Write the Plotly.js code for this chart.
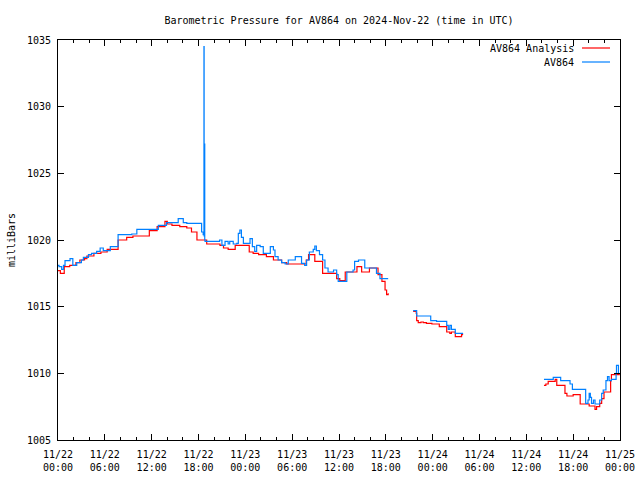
<!DOCTYPE html>
<html>
<head>
<meta charset="utf-8">
<script src="https://cdn.plot.ly/plotly-3.0.1.min.js"></script>
<style>html,body{margin:0;padding:0;background:#fff;}#chart{width:640px;height:480px;}</style>
</head>
<body>
<div id="chart"></div>
<script>
// Hours after 2024-11-22 00:00 UTC; null marks data gaps
const analysisHours = [0,0.3,0.8,1.5,2.3,2.8,3.4,3.7,4.6,5.5,6.3,7.7,8.8,9.6,11.7,12.7,13.7,14.0,14.6,15.6,16.5,17.1,17.8,18.8,19.05,20.75,21.2,21.8,22.7,24.5,25.0,25.7,26.7,27.6,28.65,29.3,31.8,32.1,32.9,33.9,35.7,36.1,36.8,38.3,38.9,39.9,41.0,41.5,41.9,42.1,42.3,
  43,
  45.5,45.9,45.95,46.15,46.5,46.8,47.2,47.9,48.85,49.8,50.2,50.4,50.9,51.7,51.9,
  55,
  62.26,62.5,62.8,63.7,63.9,64.95,65.2,66.0,66.9,67.8,68.05,68.8,69.0,69.4,69.65,69.95,70.8,70.9,71.9];
const analysisValues = [1017.7,1017.5,1018.0,1018.1,1018.3,1018.5,1018.6,1018.8,1019.0,1019.1,1019.3,1020.0,1020.2,1020.3,1020.7,1021.0,1021.4,1021.2,1021.1,1021.0,1020.9,1020.6,1020.0,1020.0,1019.7,1019.6,1019.4,1019.3,1019.6,1019.1,1019.0,1018.9,1018.75,1018.5,1018.3,1018.2,1018.5,1018.9,1018.4,1017.5,1017.1,1016.95,1017.6,1018.0,1017.6,1017.9,1017.4,1016.9,1016.25,1015.9,1016.0,
  null,
  1014.65,1014.5,1013.95,1013.8,1013.85,1013.8,1013.75,1013.7,1013.5,1013.1,1013.0,1013.1,1012.75,1012.9,1012.9,
  null,
  1009.1,1009.2,1009.4,1009.55,1009.1,1008.5,1008.3,1008.4,1007.7,1007.7,1007.55,1007.3,1007.5,1007.75,1008.1,1008.6,1009.45,1009.9,1010.0];

const stationHours = [0,0.13,0.47,0.7,0.9,1.54,1.9,2.4,3.0,3.25,3.9,4.3,4.95,5.4,5.8,6.7,7.7,9.45,10.1,12.85,13.9,15.4,16.05,16.5,18.4,18.6,18.7,18.72,18.76,18.8,18.84,20.7,21.0,21.4,21.8,22.0,22.45,22.9,23.1,23.3,23.5,23.75,24.6,24.9,25.2,25.45,25.9,26.3,27.2,27.6,27.8,28.2,28.65,29.1,29.5,30.4,31.2,31.6,31.85,32.2,32.7,32.9,33.1,33.5,33.9,34.2,34.6,35.3,35.7,35.9,37.0,37.8,38.0,38.5,39.3,40.8,41.25,42.3,
  43,
  45.5,45.95,47.75,48.5,49.8,50.0,50.2,50.4,50.9,51.9,
  55,
  62.26,63.45,64.4,65.6,65.9,67.5,67.6,67.9,68.05,68.2,68.35,68.6,68.8,69.4,69.65,69.85,70.2,70.4,70.6,70.9,71.5,71.55,71.8,71.9];
const stationValues = [1018.1,1018.0,1017.8,1018.1,1018.45,1018.6,1018.1,1018.3,1018.5,1018.7,1018.9,1019.0,1019.15,1019.4,1019.2,1019.5,1020.4,1020.45,1020.8,1021.1,1021.3,1021.6,1021.3,1021.25,1020.6,1020.4,1034.5,1020.3,1027.2,1020.0,1019.9,1020.0,1019.6,1019.9,1019.7,1019.9,1019.7,1019.75,1020.5,1020.75,1020.2,1019.75,1020.1,1019.5,1019.15,1019.6,1019.5,1019.0,1019.5,1019.25,1018.75,1018.5,1018.3,1018.2,1018.5,1018.75,1018.25,1018.1,1018.5,1019.1,1019.3,1019.55,1019.2,1018.9,1018.5,1017.9,1017.6,1017.75,1017.4,1016.9,1017.6,1017.75,1018.4,1018.5,1017.9,1017.5,1017.1,1017.1,
  null,
  1014.7,1014.3,1013.95,1013.9,1013.6,1013.3,1013.6,1013.3,1013.0,1013.0,
  null,
  1009.55,1009.7,1009.45,1009.2,1008.8,1008.8,1007.75,1008.0,1008.5,1008.2,1007.75,1008.0,1007.7,1008.0,1008.5,1008.75,1009.45,1009.75,1009.45,1009.55,1010.0,1010.6,1010.0,1010.0];

const tickHours = [0,6,12,18,24,30,36,42,48,54,60,66,72];
const tickLabels = ["11/22<br>00:00","11/22<br>06:00","11/22<br>12:00","11/22<br>18:00","11/23<br>00:00","11/23<br>06:00","11/23<br>12:00","11/23<br>18:00","11/24<br>00:00","11/24<br>06:00","11/24<br>12:00","11/24<br>18:00","11/25<br>00:00"];
const seriesNames = ["AV864 Analysis","AV864"];
const seriesColors = ["#ff0000","#0080ff"];

const base = Date.UTC(2024,10,22,0,0,0);
const HOUR = 3600000;
const toTime = h => base + h*HOUR;

const font = {family:"DejaVu Sans Mono, Liberation Mono, monospace", size:10, color:"#000"};

const traces = [
  {x: analysisHours.map(toTime), y: analysisValues, name: seriesNames[0], type:"scatter", mode:"lines",
   line:{color:seriesColors[0], width:1.2, shape:"hv"}, connectgaps:false},
  {x: stationHours.map(toTime), y: stationValues, name: seriesNames[1], type:"scatter", mode:"lines",
   line:{color:seriesColors[1], width:1.2, shape:"hv"}, connectgaps:false}
];

const legendY = [0.98, 0.945];
const layout = {
  width:640, height:480,
  margin:{l:58, r:20, t:40, b:40, pad:0},
  paper_bgcolor:"#fff", plot_bgcolor:"#fff",
  font: font,
  showlegend:false,
  title:{text:"Barometric Pressure for AV864 on 2024-Nov-22 (time in UTC)", font:font,
         x:0.5, xref:"paper", y:1-20/480, yref:"container", yanchor:"middle"},
  xaxis:{type:"date", range:[toTime(0), toTime(72)], tickmode:"array",
         tickvals: tickHours.map(toTime), ticktext: tickLabels,
         ticks:"inside", ticklen:6, tickcolor:"#000", tickwidth:1,
         showline:true, linecolor:"#000", linewidth:1, mirror:"ticks",
         showgrid:false, zeroline:false, tickfont:font, ticklabelstandoff:5,
         minor:{tickmode:"linear", tick0:toTime(0), dtick:2*HOUR, ticks:"inside", ticklen:3, tickcolor:"#000", showgrid:false}},
  yaxis:{range:[1005,1035], dtick:5, tick0:1005,
         ticks:"inside", ticklen:6, tickcolor:"#000", tickwidth:1,
         showline:true, linecolor:"#000", linewidth:1, mirror:"ticks",
         showgrid:false, zeroline:false, tickfont:font, ticklabelstandoff:4,
         title:{text:"milliBars", font:font, standoff:9}},
  annotations: seriesNames.map((n,i)=>({text:n, xref:"paper", yref:"paper", x:(576-58)/562, y:legendY[i],
      xanchor:"right", yanchor:"middle", showarrow:false, font:font})),
  shapes: seriesNames.map((n,i)=>({type:"line", xref:"paper", yref:"paper",
      x0:(582-58)/562, x1:(610-58)/562, y0:legendY[i], y1:legendY[i],
      line:{color:seriesColors[i], width:1.2}}))
};

Plotly.newPlot("chart", traces, layout, {staticPlot:true, displayModeBar:false});
</script>
</body>
</html>
